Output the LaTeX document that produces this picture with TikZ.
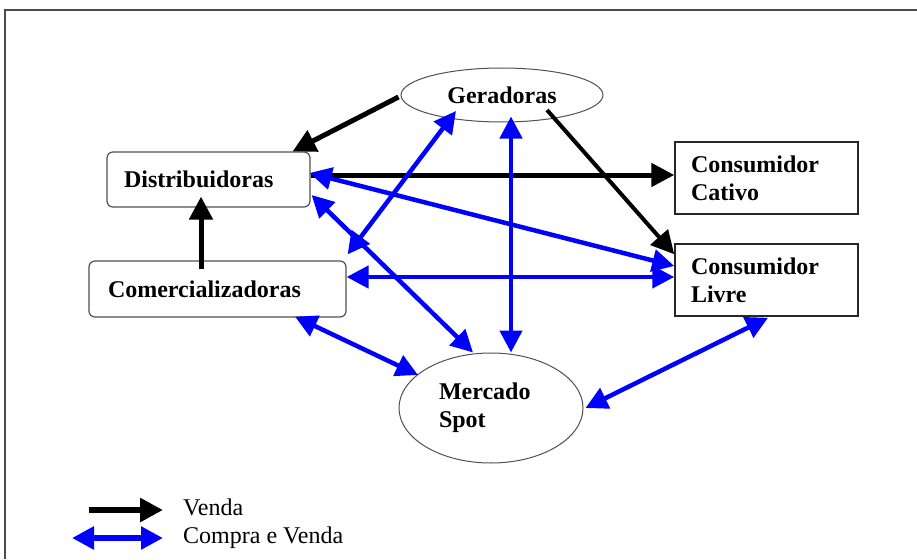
\documentclass[tikz,border=0pt]{standalone}
\usepackage{fontspec}
\setmainfont{Liberation Serif}
\usetikzlibrary{shapes.geometric,arrows.meta,calc}
\definecolor{pureblue}{RGB}{0,0,255}
\definecolor{boxgray}{RGB}{80,80,80}
\begin{document}
\begin{tikzpicture}[x=1pt,y=-1pt,
  every node/.style={font=\fontsize{24}{28}\selectfont\bfseries},
  roundbox/.style={draw=boxgray, line width=1.2pt, rounded corners=6pt, align=left, inner ysep=0pt},
  sharpbox/.style={draw=black!85, line width=1.5pt, align=left, inner ysep=0pt},
  ovalbox/.style={ellipse, draw=boxgray, line width=1pt, inner sep=0pt},
  sale/.style={draw=black, line width=5pt, -{Triangle[length=23pt,width=23pt]}},
  trade/.style={draw=pureblue, line width=4.5pt, {Triangle[length=22pt,width=22pt]}-{Triangle[length=22pt,width=22pt]}},
  legtext/.style={font=\fontsize{24}{28}\selectfont, inner sep=0pt, anchor=base west}
]
\useasboundingbox (0,0) rectangle (917,559);
\draw[line width=2pt, black!70] (917,10) -- (5,10) -- (5,559);

% nodes
\node[ovalbox, minimum width=202pt, minimum height=54pt] (ger) at (502,95) {Geradoras};
\node[roundbox, minimum width=203pt, minimum height=55pt, inner xsep=17pt, text width=169pt] (dist) at (208.5,179.5) {Distribuidoras};
\node[roundbox, minimum width=257pt, minimum height=56pt, inner xsep=19pt, text width=219pt] (com) at (217.5,289) {Comercializadoras};
\node[sharpbox, minimum width=183pt, minimum height=72pt, inner xsep=16pt, text width=151pt] (cat) at (766.5,178) {Consumidor\\Cativo};
\node[sharpbox, minimum width=183pt, minimum height=72pt, inner xsep=16pt, text width=151pt] (liv) at (766.5,280) {Consumidor\\Livre};
\node[ovalbox, minimum width=184pt, minimum height=110pt, text width=104pt, align=left] (spot) at (491,408) {Mercado\\Spot};

% black connectors (Venda)
\draw[sale] ($(ger.west)+(-2,2)$) -- ($(dist.north east)+(-18,0)$);
\draw[sale] ($(dist.east)+(0,-4.5)$) -- ($(cat.west)+(0,-3)$);
\draw[sale, line width=4pt] ($(ger.center)+(45,15)$) -- ($(liv.north west)+(0,11)$);
\draw[sale] ($(com.north)+(-16.5,9)$) -- ($(dist.south)+(-7.5,-11)$);

% blue connectors (Compra e Venda)
\draw[trade] ($(dist.east)+(-1,-6.5)$) -- ($(liv.west)+(0,-14)$);
\draw[trade] ($(com.east)+(0,-12)$) -- ($(liv.west)+(0,-3)$);
\draw[trade] ($(dist.east)+(1,15.5)$) -- ($(spot.north)+(-18,0)$);
\draw[trade] ($(com.north east)+(1,-6)$) -- ($(ger.center)+(-46,16)$);
\draw[trade] ($(ger.south)+(9,-6)$) -- ($(spot.north)+(20,0)$);
\draw[trade] ($(com.south)+(77.5,-1)$) -- ($(spot.center)+(-73,-33)$);
\draw[trade] ($(spot.east)+(2,0)$) -- ($(liv.south)+(1.5,1)$);

% legend
\coordinate (l1a) at (89,510);
\coordinate (l1b) at (163,510);
\coordinate (l2a) at (72,538);
\coordinate (l2b) at (163,538);
\draw[sale, line width=6pt] (l1a) -- (l1b);
\draw[trade, line width=6pt] (l2a) -- (l2b);
\node[legtext] (lv) at (183,515) {Venda};
\node[legtext] (lcv) at (183,543) {Compra e Venda};
\end{tikzpicture}
\end{document}
